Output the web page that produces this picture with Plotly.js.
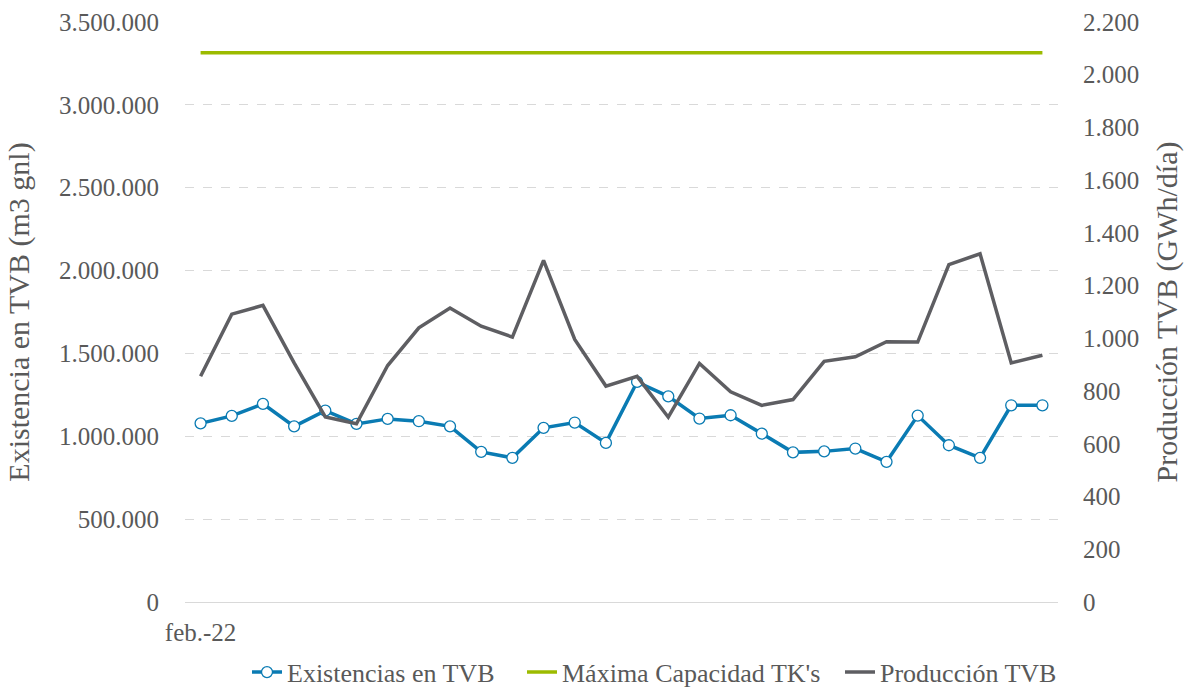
<!DOCTYPE html>
<html>
<head>
<meta charset="utf-8">
<script src="https://cdn.plot.ly/plotly-3.0.1.min.js"></script>
<style>
  html, body { margin: 0; padding: 0; background: #ffffff; }
  #chart { width: 1184px; height: 693px; }
</style>
</head>
<body>
<div id="chart"></div>
<script>
// Data (28 periods, first labelled feb.-22)
const tickLabels = ['feb.-22'];
const existenciasTVB = [1078000, 1123000, 1196000, 1060000, 1155000, 1075000, 1105000, 1091000, 1060000, 906000,
  870000, 1051000, 1083000, 960000, 1328000, 1241000, 1107000, 1127000, 1016000, 903000,
  909000, 926000, 846000, 1125000, 946000, 870000, 1187000, 1187000];
const maximaCapacidad = 3315000;
const produccionTVB = [856, 1092, 1125, 907, 702, 676, 897, 1040, 1115, 1046,
  1005, 1296, 996, 819, 856, 701, 905, 797, 746, 768,
  913, 930, 987, 986, 1280, 1321, 907, 936];
const seriesNames = ['Existencias en TVB', "Máxima Capacidad TK's", 'Producción TVB'];

const idx = existenciasTVB.map((_, i) => i);
const capLine = idx.map(() => maximaCapacidad);

const FONT = 'Liberation Serif';
const TXT = '#595959';
const BLUE = '#0A7BB3';
const GREEN = '#9CBB00';
const GRAY = '#5E5E62';

const traces = [
  {
    x: idx, y: existenciasTVB, name: seriesNames[0], type: 'scatter', mode: 'lines+markers',
    line: {color: BLUE, width: 3.5},
    marker: {symbol: 'circle', size: 11, color: '#ffffff', line: {color: BLUE, width: 1.3}},
    yaxis: 'y', legend: 'legend'
  },
  {
    x: idx, y: capLine, name: seriesNames[1], type: 'scatter', mode: 'lines',
    line: {color: GREEN, width: 3.5},
    yaxis: 'y', legend: 'legend2'
  },
  {
    x: idx, y: produccionTVB, name: seriesNames[2], type: 'scatter', mode: 'lines',
    line: {color: GRAY, width: 3.5},
    yaxis: 'y2', legend: 'legend3'
  }
];

function legendAt(px) {
  return {
    orientation: 'h', xref: 'container', yref: 'container',
    x: px / 1184, xanchor: 'left', y: 0.030, yanchor: 'middle',
    font: {family: FONT, color: TXT, size: 26},
    bgcolor: 'rgba(0,0,0,0)', borderwidth: 0
  };
}

const layout = {
  width: 1184, height: 693,
  margin: {l: 185, r: 126, t: 22, b: 91, autoexpand: false},
  paper_bgcolor: '#ffffff', plot_bgcolor: '#ffffff',
  separators: ',.',
  font: {family: FONT, color: TXT, size: 25},
  showlegend: true,
  legend: legendAt(247),
  legend2: legendAt(522),
  legend3: legendAt(840),
  xaxis: {
    type: 'linear', range: [-0.5, 27.5], automargin: false,
    tickvals: [0], ticktext: tickLabels,
    showgrid: false, zeroline: false,
    showline: true, linecolor: '#D9D9D9', linewidth: 1,
    ticks: '', ticklabelstandoff: 8,
    tickfont: {family: FONT, color: TXT, size: 25},
    fixedrange: true
  },
  yaxis: {
    range: [0, 3500000], dtick: 500000, tick0: 0, automargin: false,
    tickformat: ',d',
    showgrid: true, gridcolor: '#D9D9D9', gridwidth: 1, griddash: 'dash',
    zeroline: false, showline: false, ticks: '',
    ticklabelstandoff: 25,
    tickfont: {family: FONT, color: TXT, size: 25},
    title: {text: 'Existencia en TVB (m3 gnl)', font: {family: FONT, color: TXT, size: 30}, standoff: 20},
    fixedrange: true
  },
  yaxis2: {
    overlaying: 'y', side: 'right', automargin: false,
    range: [0, 2200], dtick: 200, tick0: 0,
    tickformat: ',d',
    showgrid: false, zeroline: false, showline: false, ticks: '',
    ticklabelstandoff: 24,
    tickfont: {family: FONT, color: TXT, size: 25},
    title: {text: 'Producción TVB (GWh/día)', font: {family: FONT, color: TXT, size: 30}, standoff: 17},
    fixedrange: true
  }
};

Plotly.newPlot('chart', traces, layout, {displayModeBar: false, staticPlot: true});
</script>
</body>
</html>
